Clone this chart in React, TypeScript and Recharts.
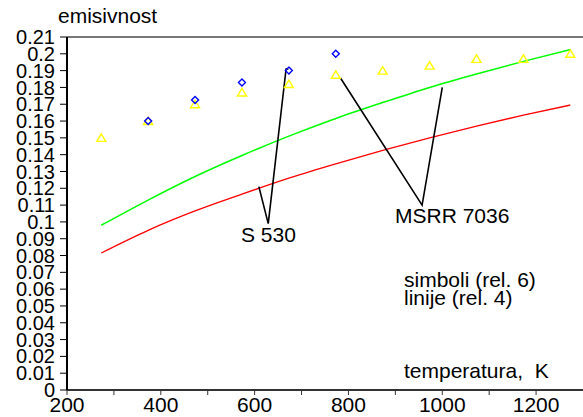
import { ComposedChart, Line, Scatter, XAxis, YAxis, ReferenceLine } from 'recharts'

// temperatures, K
const temps = [273, 373, 473, 573, 673, 773, 873, 973, 1073, 1173, 1273]
// symbols (rel. 6)
const s530Temps = [373, 473, 573, 673, 773]
const s530Symbols = [0.16, 0.1725, 0.183, 0.19, 0.2]
const msrrSymbols = [0.15, 0.16, 0.17, 0.177, 0.182, 0.1875, 0.19, 0.193, 0.197, 0.197, 0.2]
// lines (rel. 4)
const s530Line = [0.0815, 0.095, 0.1065, 0.1165, 0.126, 0.1345, 0.1425, 0.15, 0.157, 0.1635, 0.1695]
const msrrLine = [0.098, 0.113, 0.127, 0.1395, 0.151, 0.1615, 0.171, 0.18, 0.188, 0.1955, 0.2025]
// leader lines from the labels
const s530Leader = [
  { x: 609, y: 0.121 },
  { x: 629, y: 0.099 },
  { x: 667, y: 0.191 },
  { x: 672, y: 0.191 },
]
const msrrLeader = [
  { x: 783, y: 0.1856 },
  { x: 957, y: 0.11 },
  { x: 1000, y: 0.18 },
]
const xTicks = [200, 300, 400, 500, 600, 700, 800, 900, 1000, 1100, 1200]
const yTicks = [
  0, 0.01, 0.02, 0.03, 0.04, 0.05, 0.06, 0.07, 0.08, 0.09, 0.1, 0.11, 0.12, 0.13, 0.14, 0.15, 0.16, 0.17, 0.18, 0.19,
  0.2, 0.21,
]

const toPoints = (xs: number[], ys: number[]) => xs.map((x, i) => ({ x, y: ys[i] }))

const FONT = '"Liberation Sans", Arial, sans-serif'

const Diamond = (props: any) => {
  const { cx, cy } = props
  const r = 3.5
  return (
    <polygon
      points={`${cx},${cy - r} ${cx + r},${cy} ${cx},${cy + r} ${cx - r},${cy}`}
      fill="none"
      stroke="#0000ff"
      strokeWidth={1.4}
    />
  )
}

const Triangle = (props: any) => {
  const { cx, cy } = props
  return (
    <polygon
      points={`${cx},${cy - 4} ${cx + 4.5},${cy + 3.5} ${cx - 4.5},${cy + 3.5}`}
      fill="none"
      stroke="#ffff00"
      strokeWidth={1.4}
    />
  )
}

export default function App() {
  return (
    <div style={{ position: 'absolute', left: 0, top: 0, width: 583, height: 417, background: '#fff' }}>
      <ComposedChart width={583} height={417} margin={{ top: 37, right: 0, bottom: 0, left: 0 }}>
        <XAxis
          type="number"
          dataKey="x"
          domain={[200, 1300]}
          ticks={xTicks}
          allowDataOverflow
          height={27}
          tickSize={5}
          tickMargin={2}
          tickFormatter={(v: number) => (v % 200 === 0 ? String(v) : '')}
          tick={{ fill: '#000', fontSize: 21, fontFamily: FONT }}
          stroke="#333"
          axisLine={{ stroke: '#333', strokeWidth: 2 }}
        />
        <YAxis
          type="number"
          domain={[0, 0.21]}
          ticks={yTicks}
          interval={0}
          width={67}
          tickSize={7}
          tickMargin={5}
          tickFormatter={(v: number) => String(Number(v.toFixed(2)))}
          tick={{ fill: '#000', fontSize: 20, fontFamily: FONT }}
          stroke="#000"
          axisLine={{ stroke: '#000', strokeWidth: 2 }}
        />
        <ReferenceLine y={0.21} stroke="#777" strokeWidth={2} />
        <Line
          data={toPoints(temps, s530Line)}
          dataKey="y"
          type="monotone"
          stroke="#ff0000"
          strokeWidth={1.3}
          dot={false}
          isAnimationActive={false}
        />
        <Line
          data={toPoints(temps, msrrLine)}
          dataKey="y"
          type="monotone"
          stroke="#00ff00"
          strokeWidth={1.5}
          dot={false}
          isAnimationActive={false}
        />
        <Line
          data={s530Leader}
          dataKey="y"
          type="linear"
          stroke="#000"
          strokeWidth={1.6}
          dot={false}
          isAnimationActive={false}
        />
        <Line
          data={msrrLeader}
          dataKey="y"
          type="linear"
          stroke="#000"
          strokeWidth={1.6}
          dot={false}
          isAnimationActive={false}
        />
        <Scatter data={toPoints(temps, msrrSymbols)} dataKey="y" shape={Triangle} isAnimationActive={false} />
        <Scatter data={toPoints(s530Temps, s530Symbols)} dataKey="y" shape={Diamond} isAnimationActive={false} />
      </ComposedChart>
      <svg
        width={583}
        height={417}
        style={{ position: 'absolute', left: 0, top: 0, pointerEvents: 'none' }}
        fontFamily={FONT}
        fontSize={21}
      >
        <text x={58} y={23}>emisivnost</text>
        <text x={241} y={242}>S 530</text>
        <text x={395} y={223}>MSRR 7036</text>
        <text x={404} y={287}>simboli (rel. 6)</text>
        <text x={404} y={305}>linije (rel. 4)</text>
        <text x={404} y={378} style={{ whiteSpace: 'pre' }}>
          temperatura,  K
        </text>
      </svg>
    </div>
  )
}
